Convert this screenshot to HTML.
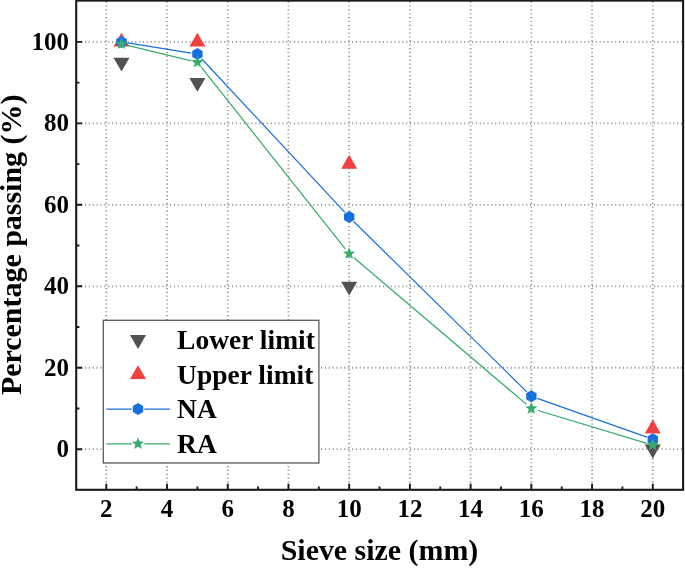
<!DOCTYPE html>
<html lang="en"><head><meta charset="utf-8"><title>Sieve size chart</title>
<style>html,body{margin:0;padding:0;background:#fff}body{width:685px;height:568px;overflow:hidden}svg{display:block;will-change:transform}</style></head>
<body>
<svg width="685" height="568" viewBox="0 0 685 568" font-family="'Liberation Serif', serif" font-weight="bold">
<rect width="685" height="568" fill="#fff"/>
<path d="M106.30 1.60V488.80M167.02 1.60V488.80M227.74 1.60V488.80M288.46 1.60V488.80M349.18 1.60V488.80M409.90 1.60V488.80M470.62 1.60V488.80M531.34 1.60V488.80M592.06 1.60V488.80M652.78 1.60V488.80M77.20 449.20H682.10M77.20 367.74H682.10M77.20 286.28H682.10M77.20 204.82H682.10M77.20 123.36H682.10M77.20 41.90H682.10" stroke="#969696" stroke-width="1.8" stroke-dasharray="1.15 2.72" fill="none"/>
<path d="M113.48 57.65H129.48L121.48 71.50Z" fill="#515151"/>
<path d="M189.38 78.01H205.38L197.38 91.87Z" fill="#515151"/>
<path d="M341.18 281.66H357.18L349.18 295.52Z" fill="#515151"/>
<path d="M644.78 444.58H660.78L652.78 458.44Z" fill="#515151"/>
<path d="M113.48 46.52H129.48L121.48 32.66Z" fill="#F14040"/>
<path d="M189.38 46.52H205.38L197.38 32.66Z" fill="#F14040"/>
<path d="M341.18 168.71H357.18L349.18 154.85Z" fill="#F14040"/>
<path d="M644.78 433.45H660.78L652.78 419.60Z" fill="#F14040"/>
<path d="M127.70 42.90L191.16 53.12M201.67 58.73L344.89 212.43M353.67 221.46L526.85 391.83M537.28 398.35L646.84 437.12" stroke="#1A6FDF" stroke-width="1.22" fill="none"/>
<path d="M121.48 35.90L126.68 38.90L126.68 44.90L121.48 47.90L116.28 44.90L116.28 38.90Z" fill="#1A6FDF"/>
<path d="M197.38 48.12L202.58 51.12L202.58 57.12L197.38 60.12L192.18 57.12L192.18 51.12Z" fill="#1A6FDF"/>
<path d="M349.18 211.04L354.38 214.04L354.38 220.04L349.18 223.04L343.98 220.04L343.98 214.04Z" fill="#1A6FDF"/>
<path d="M531.34 390.25L536.54 393.25L536.54 399.25L531.34 402.25L526.14 399.25L526.14 393.25Z" fill="#1A6FDF"/>
<path d="M652.78 433.22L657.98 436.22L657.98 442.22L652.78 445.22L647.58 442.22L647.58 436.22Z" fill="#1A6FDF"/>
<path d="M127.60 45.42L191.26 60.79M201.29 67.20L345.27 248.76M353.98 257.78L526.54 404.39M537.37 410.29L646.75 443.31" stroke="#37AD6B" stroke-width="1.22" fill="none"/>
<path d="M121.48 37.54L123.13 41.67L127.57 41.96L124.14 44.80L125.24 49.11L121.48 46.74L117.72 49.11L118.82 44.80L115.39 41.96L119.83 41.67Z" fill="#37AD6B"/>
<path d="M197.38 55.86L199.03 60.00L203.47 60.29L200.04 63.13L201.14 67.44L197.38 65.06L193.62 67.44L194.72 63.13L191.29 60.29L195.73 60.00Z" fill="#37AD6B"/>
<path d="M349.18 247.30L350.83 251.43L355.27 251.72L351.84 254.56L352.94 258.87L349.18 256.50L345.42 258.87L346.52 254.56L343.09 251.72L347.53 251.43Z" fill="#37AD6B"/>
<path d="M531.34 402.07L532.99 406.20L537.43 406.49L534.00 409.34L535.10 413.65L531.34 411.27L527.58 413.65L528.68 409.34L525.25 406.49L529.69 406.20Z" fill="#37AD6B"/>
<path d="M652.78 438.73L654.43 442.86L658.87 443.15L655.44 445.99L656.54 450.30L652.78 447.93L649.02 450.30L650.12 445.99L646.69 443.15L651.13 442.86Z" fill="#37AD6B"/>
<path d="M106.30 489.80v-6.0M136.66 489.80v-3.2M167.02 489.80v-6.0M197.38 489.80v-3.2M227.74 489.80v-6.0M258.10 489.80v-3.2M288.46 489.80v-6.0M318.82 489.80v-3.2M349.18 489.80v-6.0M379.54 489.80v-3.2M409.90 489.80v-6.0M440.26 489.80v-3.2M470.62 489.80v-6.0M500.98 489.80v-3.2M531.34 489.80v-6.0M561.70 489.80v-3.2M592.06 489.80v-6.0M622.42 489.80v-3.2M652.78 489.80v-6.0M76.20 449.20h6.0M76.20 408.47h3.2M76.20 367.74h6.0M76.20 327.01h3.2M76.20 286.28h6.0M76.20 245.55h3.2M76.20 204.82h6.0M76.20 164.09h3.2M76.20 123.36h6.0M76.20 82.63h3.2M76.20 41.90h6.0" stroke="#1a1a1a" stroke-width="1.9" fill="none"/>
<rect x="76.2" y="0.6" width="606.9" height="489.2" fill="none" stroke="#1a1a1a" stroke-width="2.1"/>
<text transform="translate(106.30 516.65) scale(1.0 1)" font-size="25" text-anchor="middle">2</text>
<text transform="translate(167.02 516.65) scale(1.0 1)" font-size="25" text-anchor="middle">4</text>
<text transform="translate(227.74 516.65) scale(1.0 1)" font-size="25" text-anchor="middle">6</text>
<text transform="translate(288.46 516.65) scale(1.0 1)" font-size="25" text-anchor="middle">8</text>
<text transform="translate(349.18 516.65) scale(1.0 1)" font-size="25" text-anchor="middle">10</text>
<text transform="translate(409.90 516.65) scale(1.0 1)" font-size="25" text-anchor="middle">12</text>
<text transform="translate(470.62 516.65) scale(1.0 1)" font-size="25" text-anchor="middle">14</text>
<text transform="translate(531.34 516.65) scale(1.0 1)" font-size="25" text-anchor="middle">16</text>
<text transform="translate(592.06 516.65) scale(1.0 1)" font-size="25" text-anchor="middle">18</text>
<text transform="translate(652.78 516.65) scale(1.0 1)" font-size="25" text-anchor="middle">20</text>
<text transform="translate(69.00 457.30) scale(1.0 1)" font-size="25" text-anchor="end">0</text>
<text transform="translate(69.00 375.84) scale(1.0 1)" font-size="25" text-anchor="end">20</text>
<text transform="translate(69.00 294.38) scale(1.0 1)" font-size="25" text-anchor="end">40</text>
<text transform="translate(69.00 212.92) scale(1.0 1)" font-size="25" text-anchor="end">60</text>
<text transform="translate(69.00 131.46) scale(1.0 1)" font-size="25" text-anchor="end">80</text>
<text transform="translate(69.00 50.00) scale(1.0 1)" font-size="25" text-anchor="end">100</text>
<text transform="translate(379.50 560.30) scale(1.004 1)" font-size="29.8" text-anchor="middle">Sieve size (mm)</text>
<text transform="translate(21.10 244.85) rotate(-90) scale(1.005 1)" font-size="29.8" text-anchor="middle">Percentage passing (%)</text>
<rect x="103.3" y="320.3" width="215.6" height="142.7" fill="#fff" stroke="#5a5a5a" stroke-width="1.3"/>
<text transform="translate(177.10 349.00) scale(1.019 1)" font-size="27" text-anchor="start">Lower limit</text>
<text transform="translate(177.10 383.70) scale(1.019 1)" font-size="27" text-anchor="start">Upper limit</text>
<text transform="translate(177.10 418.30) scale(1.019 1)" font-size="27" text-anchor="start">NA</text>
<text transform="translate(177.10 453.00) scale(1.019 1)" font-size="27" text-anchor="start">RA</text>
<path d="M130.00 335.08H146.00L138.00 348.94Z" fill="#515151"/>
<path d="M130.00 379.02H146.00L138.00 365.16Z" fill="#F14040"/>
<path d="M106.4 409.20H131.70M144.30 409.20H170" stroke="#1A6FDF" stroke-width="1.22" fill="none"/>
<path d="M106.4 443.90H131.70M144.30 443.90H170" stroke="#37AD6B" stroke-width="1.22" fill="none"/>
<path d="M138.00 403.00L143.20 406.00L143.20 412.00L138.00 415.00L132.80 412.00L132.80 406.00Z" fill="#1A6FDF"/>
<path d="M138.00 437.30L139.65 441.43L144.09 441.72L140.66 444.57L141.76 448.88L138.00 446.50L134.24 448.88L135.34 444.57L131.91 441.72L136.35 441.43Z" fill="#37AD6B"/>
</svg>
</body></html>
